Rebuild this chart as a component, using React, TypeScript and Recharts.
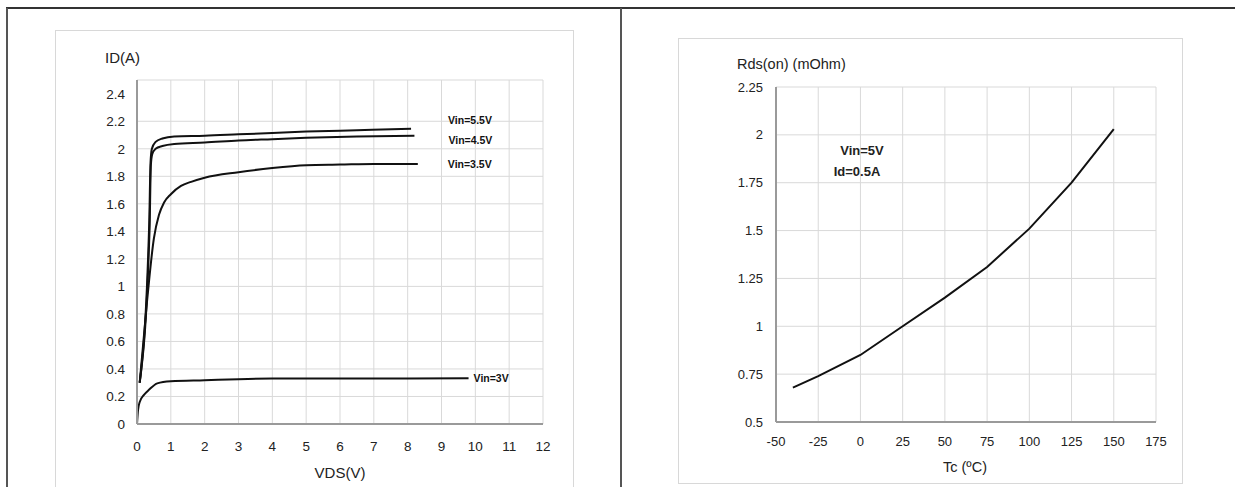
import React from 'react';
import { LineChart, Line, XAxis, YAxis, CartesianGrid } from 'recharts';

// output characteristics, ID vs VDS
const vdsTicks = [0, 1, 2, 3, 4, 5, 6, 7, 8, 9, 10, 11, 12];
const idTicks = [0, 0.2, 0.4, 0.6, 0.8, 1, 1.2, 1.4, 1.6, 1.8, 2, 2.2, 2.4];

const vds55 = [0.08, 0.36, 0.4, 0.44, 0.55, 0.75, 1.1, 2, 3, 4, 5, 6.5, 8.1];
const id55 = [0.3, 1.45, 1.9, 2.0, 2.05, 2.075, 2.09, 2.095, 2.105, 2.115, 2.125, 2.135, 2.145];

const vds45 = [0.08, 0.37, 0.41, 0.45, 0.55, 0.75, 1.1, 2, 3, 4, 5, 6.5, 8.2];
const id45 = [0.3, 1.4, 1.88, 1.96, 2.0, 2.02, 2.035, 2.045, 2.06, 2.07, 2.08, 2.09, 2.095];

const vds35 = [0.08, 0.3, 0.5, 0.65, 0.8, 1.0, 1.3, 1.6, 2, 3, 4, 5, 6, 7, 8.3];
const id35 = [0.3, 0.9, 1.35, 1.52, 1.61, 1.67, 1.73, 1.76, 1.79, 1.83, 1.86, 1.88, 1.885, 1.89, 1.89];

const vds30 = [0, 0.03, 0.08, 0.2, 0.36, 0.6, 1, 2, 3, 4, 6, 8, 9.8];
const id30 = [0, 0.1, 0.16, 0.21, 0.25, 0.295, 0.31, 0.318, 0.326, 0.33, 0.33, 0.33, 0.333];

// Rds(on) vs temperature
const tcTicks = [-50, -25, 0, 25, 50, 75, 100, 125, 150, 175];
const rdsTicks = [0.5, 0.75, 1, 1.25, 1.5, 1.75, 2, 2.25];
const tc = [-40, -25, 0, 25, 50, 75, 100, 125, 150];
const rds = [0.68, 0.74, 0.85, 1.0, 1.15, 1.31, 1.51, 1.75, 2.03];

const FONT = '"Liberation Sans", Arial, Helvetica, sans-serif';

const zip = (xs: number[], ys: number[]) => xs.map((x, i) => ({ x, y: ys[i] }));

const endLabel = (text: string, count: number, dx: number, dy: number) => (props: any) => {
  if (props.index !== count - 1) return <g />;
  return (
    <text x={props.x + dx} y={props.y + dy} fontSize={10.5} fontWeight="bold" fill="#111" fontFamily={FONT}>
      {text}
    </text>
  );
};

function IdChart() {
  const series = [
    { d: zip(vds55, id55), name: 'Vin=5.5V', dx: 37, dy: -5 },
    { d: zip(vds45, id45), name: 'Vin=4.5V', dx: 34, dy: 8 },
    { d: zip(vds35, id35), name: 'Vin=3.5V', dx: 30, dy: 4 },
    { d: zip(vds30, id30), name: 'Vin=3V', dx: 5, dy: 4 },
  ];
  return (
    <div style={{ position: 'absolute', left: 0, top: 0 }}>
      <LineChart width={600} height={487} margin={{ top: 80, right: 57, bottom: 33, left: 97 }}>
        <CartesianGrid stroke="#d9d9d9" horizontalValues={[...idTicks, 2.5]} />
        <XAxis
          type="number"
          dataKey="x"
          domain={[0, 12]}
          ticks={vdsTicks}
          allowDataOverflow
          tickLine={false}
          tickMargin={11}
          height={30}
          axisLine={{ stroke: '#9a9a9a', strokeWidth: 2 }}
          tick={{ fill: '#222', fontSize: 13.5, fontFamily: FONT }}
        />
        <YAxis
          type="number"
          dataKey="y"
          domain={[0, 2.5]}
          ticks={idTicks}
          allowDataOverflow
          width={40}
          tickLine={false}
          tickMargin={6}
          axisLine={{ stroke: '#9a9a9a', strokeWidth: 2 }}
          tick={{ fill: '#222', fontSize: 13.5, fontFamily: FONT }}
        />
        {series.map((s) => (
          <Line
            key={s.name}
            data={s.d}
            dataKey="y"
            type="monotone"
            stroke="#111"
            strokeWidth={2}
            dot={false}
            isAnimationActive={false}
            label={endLabel(s.name, s.d.length, s.dx, s.dy)}
          />
        ))}
      </LineChart>
    </div>
  );
}

function RdsChart() {
  return (
    <div style={{ position: 'absolute', left: 620, top: 0 }}>
      <LineChart width={615} height={487} margin={{ top: 87, right: 79, bottom: 35, left: 116 }}>
        <CartesianGrid stroke="#d9d9d9" />
        <XAxis
          type="number"
          dataKey="x"
          domain={[-50, 175]}
          ticks={tcTicks}
          tickLine={false}
          tickMargin={9}
          height={30}
          axisLine={{ stroke: '#9a9a9a', strokeWidth: 2 }}
          tick={{ fill: '#222', fontSize: 13, fontFamily: FONT }}
        />
        <YAxis
          type="number"
          dataKey="y"
          domain={[0.5, 2.25]}
          ticks={rdsTicks}
          width={40}
          tickLine={false}
          tickMargin={7}
          axisLine={{ stroke: '#9a9a9a', strokeWidth: 2 }}
          tick={{ fill: '#222', fontSize: 13, fontFamily: FONT }}
        />
        <Line
          data={zip(tc, rds)}
          dataKey="y"
          type="linear"
          stroke="#111"
          strokeWidth={2}
          dot={false}
          isAnimationActive={false}
        />
      </LineChart>
    </div>
  );
}

const abs = (s: React.CSSProperties): React.CSSProperties => ({ position: 'absolute', ...s });

export default function App() {
  return (
    <div style={abs({ left: 0, top: 0, width: 1235, height: 487, background: '#fff', fontFamily: FONT, color: '#222', overflow: 'hidden' })}>
      <div style={abs({ left: 6, top: 7, width: 1229, height: 2, background: '#333' })} />
      <div style={abs({ left: 6, top: 8, width: 2, height: 479, background: '#555' })} />
      <div style={abs({ left: 620, top: 8, width: 2, height: 479, background: '#555' })} />
      <div style={abs({ left: 55, top: 30, width: 517, height: 470, border: '1px solid #d8d8d8' })} />
      <div style={abs({ left: 678, top: 38, width: 503, height: 444, border: '1px solid #d8d8d8' })} />
      <IdChart />
      <RdsChart />
      <div style={abs({ left: 105, top: 49, fontSize: 15 })}>ID(A)</div>
      <div style={abs({ left: 290, top: 464, width: 100, textAlign: 'center', fontSize: 15 })}>VDS(V)</div>
      <div style={abs({ left: 737, top: 56, fontSize: 14.5 })}>Rds(on) (mOhm)</div>
      <div style={abs({ left: 915, top: 459, width: 100, textAlign: 'center', fontSize: 14.5 })}>Tc (ºC)</div>
      <div style={abs({ left: 812, top: 143, width: 100, textAlign: 'center', fontSize: 13, fontWeight: 'bold' })}>Vin=5V</div>
      <div style={abs({ left: 807, top: 164, width: 100, textAlign: 'center', fontSize: 13, fontWeight: 'bold' })}>Id=0.5A</div>
    </div>
  );
}
